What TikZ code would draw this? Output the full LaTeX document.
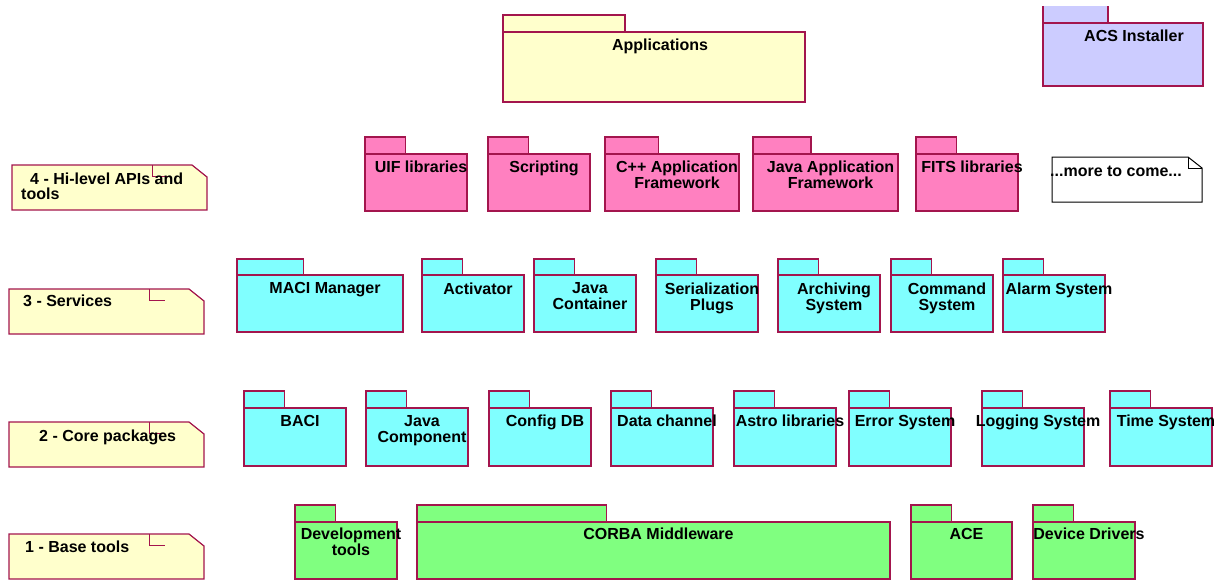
\documentclass[tikz,border=0pt]{standalone}
\usepackage{fontspec}
\setmainfont{Liberation Sans}
\definecolor{pkgedge}{HTML}{A3154D}
\definecolor{appyellow}{HTML}{FFFFCC}
\definecolor{apipink}{HTML}{FF80C0}
\definecolor{svccyan}{HTML}{80FFFF}
\definecolor{basegreen}{HTML}{80FF80}
\definecolor{installlilac}{HTML}{CCCCFF}
\newcommand{\toprule}[1]{\rule{0pt}{#1}}
\begin{document}
\begin{tikzpicture}[x=1pt, y=-1pt,
  pkg/.style={draw=pkgedge, line width=1.2pt},
  pkglabel/.style={font=\fontsize{16}{16}\selectfont\bfseries, align=center, inner sep=0pt, anchor=north},
  layernote/.style={draw=pkgedge, line width=1.2pt, fill=appyellow},
  notelabel/.style={font=\fontsize{16}{15}\selectfont\bfseries, align=left, inner sep=0pt, anchor=base west}]
\useasboundingbox (0,0) rectangle (1225,582);

% 1. Applications und Installer (oben)
\draw[pkg, fill=appyellow] (503,15) rectangle (625,32);
\draw[pkg, fill=appyellow] (503,32) rectangle (805,102);
\node[pkglabel] (apps) at (660,38.8) {\toprule{11.2pt}Applications};

\fill[installlilac] (1043,6) rectangle (1108,23);
\draw[pkg] (1043,6) -- (1043,23) (1108,6) -- (1108,23);
\draw[pkg, fill=installlilac] (1043,23) rectangle (1203,86);
\node[pkglabel] (installer) at (1134,29.8) {\toprule{11.2pt}ACS Installer};

% 2. Schichten links
\foreach \l/\t in {12/165, 9/289, 9/422, 9/534} {
  \draw[layernote] (\l,\t) -- (\l+180,\t) -- (\l+195,\t+12) -- (\l+195,\t+45) -- (\l,\t+45) -- cycle;
  \draw[pkgedge, line width=0.8pt] (\l+140,\t) -- (\l+140,\t+11) -- (\l+156,\t+11);
}
\node[notelabel, anchor=north west] (layer4) at (21,173) {\toprule{10.5pt}\hspace{9pt}4 - Hi-level APIs and\\tools};
\node[notelabel] (layer3) at (23,306.5) {3 - Services};
\node[notelabel] (layer2) at (39,441) {2 - Core packages};
\node[notelabel] (layer1) at (25,552.5) {1 - Base tools};

% 3. Hi-level APIs
\foreach \l/\r/\txt [count=\i] in {365/467/UIF libraries, 488/590/Scripting,
    605/739/{C++ Application\\Framework}, 753/898/{Java Application\\Framework},
    916/1018/FITS libraries} {
  \draw[pkg, fill=apipink] (\l,137) rectangle ({\l+0.4*(\r-\l)},154);
  \draw[pkg, fill=apipink] (\l,154) rectangle (\r,211);
  \node[pkglabel] (api\i) at ({(\l+\r)/2+5},160.8) {\toprule{11.2pt}\txt};
}
\draw[black, line width=1pt, fill=white] (1052,157) -- (1188,157) -- (1202,168) -- (1202,202) -- (1052,202) -- cycle;
\draw[black, line width=0.8pt] (1188,157) -- (1188,168) -- (1202,168);
\node[notelabel] (more) at (1050,176) {...more to come...};

% 4. Services
\foreach \l/\r/\txt [count=\i] in {237/403/MACI Manager, 422/524/Activator,
    534/636/{Java\\Container}, 656/758/{Serialization\\Plugs},
    778/880/{Archiving\\System}, 891/993/{Command\\System}, 1003/1105/Alarm System} {
  \draw[pkg, fill=svccyan] (\l,259) rectangle ({\l+0.4*(\r-\l)},275);
  \draw[pkg, fill=svccyan] (\l,275) rectangle (\r,332);
  \node[pkglabel] (svc\i) at ({(\l+\r)/2+5},282.3) {\toprule{11.2pt}\txt};
}

% 5. Core packages
\foreach \l/\r/\txt [count=\i] in {244/346/BACI, 366/468/{Java\\Component},
    489/591/Config DB, 611/713/Data channel, 734/836/Astro libraries,
    849/951/Error System, 982/1084/Logging System, 1110/1212/Time System} {
  \draw[pkg, fill=svccyan] (\l,391) rectangle ({\l+0.4*(\r-\l)},408);
  \draw[pkg, fill=svccyan] (\l,408) rectangle (\r,466);
  \node[pkglabel] (core\i) at ({(\l+\r)/2+5},414.8) {\toprule{11.2pt}\txt};
}

% 6. Base tools
\foreach \l/\r/\txt [count=\i] in {295/397/{Development\\tools}, 417/890/CORBA Middleware,
    911/1012/ACE, 1033/1135/Device Drivers} {
  \draw[pkg, fill=basegreen] (\l,505) rectangle ({\l+0.4*(\r-\l)},522);
  \draw[pkg, fill=basegreen] (\l,522) rectangle (\r,579);
  \node[pkglabel] (base\i) at ({(\l+\r)/2+5},527.8) {\toprule{11.2pt}\txt};
}
\end{tikzpicture}
\end{document}
